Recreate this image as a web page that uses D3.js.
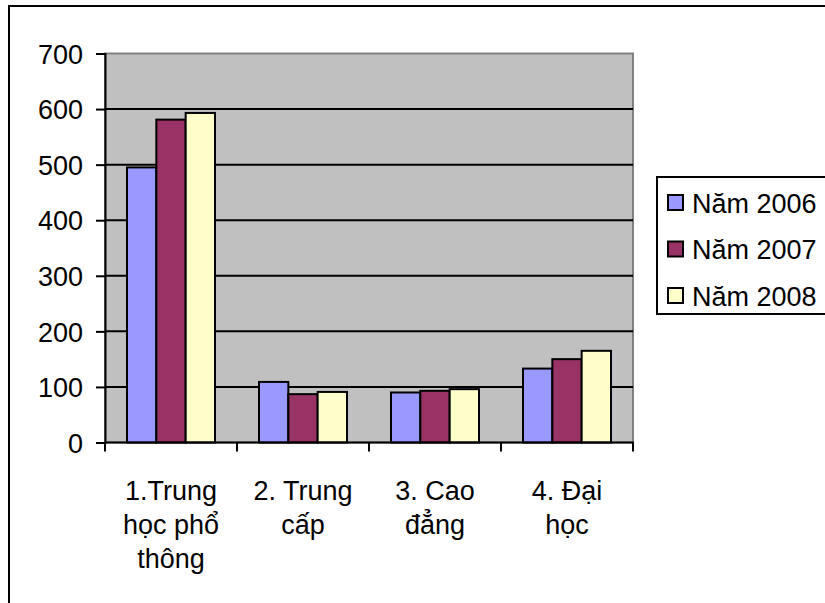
<!DOCTYPE html>
<html>
<head>
<meta charset="utf-8">
<script src="https://cdn.jsdelivr.net/npm/d3@7"></script>
<style>
  html, body { margin: 0; padding: 0; background: #fff; overflow: hidden; }
  svg { display: block; font-family: "Liberation Sans", Arial, sans-serif; }
</style>
</head>
<body>
<svg id="chart" width="825" height="603"></svg>
<script>
// Categories (school levels) and their wrapped axis labels
const categories = ["1.Trung học phổ thông", "2. Trung cấp", "3. Cao đẳng", "4. Đại học"];
const categoryLines = [
  ["1.Trung", "học phổ", "thông"],
  ["2. Trung", "cấp"],
  ["3. Cao", "đẳng"],
  ["4. Đại", "học"]
];

// Series
const seriesNames = ["Năm 2006", "Năm 2007", "Năm 2008"];
const seriesColors = ["#9999FF", "#993366", "#FFFFCC"];
const values2006 = [495, 109, 90, 133];
const values2007 = [581, 87, 93, 150];
const values2008 = [593, 91, 96, 165];
const seriesValues = [values2006, values2007, values2008];

// Y axis ticks
const yTicks = [0, 100, 200, 300, 400, 500, 600, 700];

const FONT_SIZE = 27;
const svg = d3.select("#chart");
const plot = { left: 105, right: 633, top: 53.5, bottom: 442.5 };

// Outer chart frame (runs past the right and bottom edges)
svg.append("rect")
  .attr("x", 9).attr("y", 6)
  .attr("width", 840).attr("height", 620)
  .attr("fill", "#fff").attr("stroke", "#000").attr("stroke-width", 2);

const x = d3.scaleBand().domain(categories).range([plot.left, plot.right]).paddingInner(0).paddingOuter(0);
const xs = d3.scaleBand().domain(seriesNames).range([0, x.bandwidth()]).paddingInner(0).paddingOuter(0.75);
const y = d3.scaleLinear().domain([0, 700]).range([plot.bottom, plot.top]);

// Plot background
svg.append("rect")
  .attr("x", plot.left).attr("y", plot.top)
  .attr("width", plot.right - plot.left).attr("height", plot.bottom - plot.top)
  .attr("fill", "#C0C0C0").attr("stroke", "#808080").attr("stroke-width", 2);

// Horizontal gridlines
svg.append("g").selectAll("line")
  .data(yTicks.filter(d => d > 0 && d < 700))
  .join("line")
  .attr("x1", plot.left).attr("x2", plot.right)
  .attr("y1", d => y(d)).attr("y2", d => y(d))
  .attr("stroke", "#000").attr("stroke-width", 2);

// Bars
const rows = categories.map((c, i) => ({ c, vals: seriesNames.map((s, j) => ({ s, v: seriesValues[j][i], color: seriesColors[j] })) }));
svg.append("g").selectAll("g")
  .data(rows)
  .join("g")
  .attr("transform", d => `translate(${x(d.c)},0)`)
  .selectAll("rect")
  .data(d => d.vals)
  .join("rect")
  .attr("x", d => xs(d.s))
  .attr("y", d => y(d.v))
  .attr("width", xs.bandwidth())
  .attr("height", d => y(0) - y(d.v))
  .attr("fill", d => d.color)
  .attr("stroke", "#000").attr("stroke-width", 2);

// Y axis
const yAxis = svg.append("g").attr("transform", `translate(${plot.left},0)`)
  .call(d3.axisLeft(y).tickValues(yTicks).tickSize(9).tickPadding(13).tickFormat(d3.format("d")));
yAxis.select(".domain").attr("stroke", "#000").attr("stroke-width", 2);
yAxis.selectAll(".tick line").attr("stroke", "#000").attr("stroke-width", 2);
yAxis.selectAll(".tick text").attr("font-size", FONT_SIZE).attr("fill", "#000")
  .attr("font-family", "'Liberation Sans', Arial, sans-serif").attr("dy", "0.36em");

// X axis line with tick marks at category boundaries
const xAxis = svg.append("g");
xAxis.append("line")
  .attr("x1", plot.left).attr("x2", plot.right + 1)
  .attr("y1", plot.bottom).attr("y2", plot.bottom)
  .attr("stroke", "#000").attr("stroke-width", 2);
const boundaries = categories.map(c => x(c)).concat([plot.right]);
xAxis.selectAll("line.tick")
  .data(boundaries)
  .join("line").attr("class", "tick")
  .attr("x1", d => d).attr("x2", d => d)
  .attr("y1", plot.bottom).attr("y2", plot.bottom + 9)
  .attr("stroke", "#000").attr("stroke-width", 2);

// Category labels
xAxis.selectAll("text")
  .data(categories)
  .join("text")
  .attr("x", d => x(d) + x.bandwidth() / 2)
  .attr("y", 500)
  .attr("text-anchor", "middle")
  .attr("font-size", FONT_SIZE)
  .attr("fill", "#000")
  .selectAll("tspan")
  .data((d, i) => categoryLines[i])
  .join("tspan")
  .attr("x", function () { return this.parentNode.getAttribute("x"); })
  .attr("dy", (d, i) => i === 0 ? 0 : 34)
  .text(d => d);

// Legend
const legend = svg.append("g");
legend.append("rect")
  .attr("x", 657).attr("y", 177)
  .attr("width", 200).attr("height", 137)
  .attr("fill", "#fff").attr("stroke", "#000").attr("stroke-width", 2);
const items = legend.selectAll("g.item")
  .data(seriesNames)
  .join("g").attr("class", "item")
  .attr("transform", (d, i) => `translate(668, ${203 + i * 46.5})`);
items.append("rect")
  .attr("x", 0).attr("y", -8)
  .attr("width", 15).attr("height", 15)
  .attr("fill", (d, i) => seriesColors[i])
  .attr("stroke", "#000").attr("stroke-width", 2);
items.append("text")
  .attr("x", 24).attr("y", 0).attr("dy", "0.36em")
  .attr("font-size", FONT_SIZE).attr("fill", "#000")
  .text(d => d);
</script>
</body>
</html>
